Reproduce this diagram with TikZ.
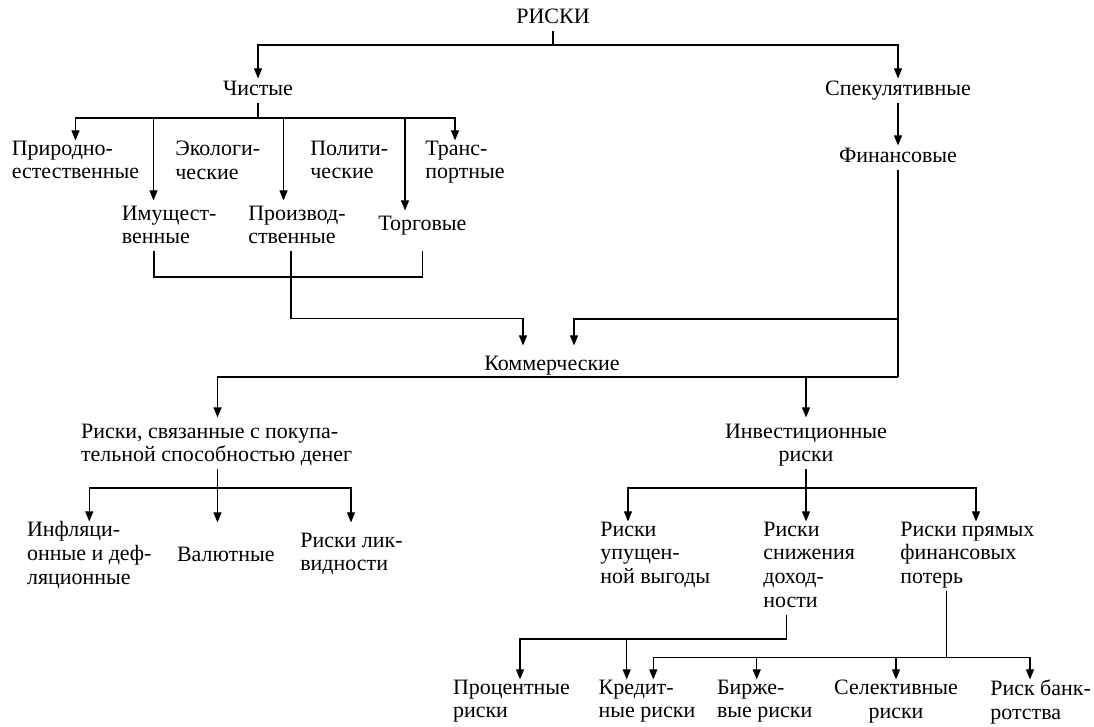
\documentclass[tikz,border=0pt]{standalone}
\usepackage{fontspec}
\setmainfont{Liberation Serif}
\usetikzlibrary{arrows.meta,calc}

\begin{document}
\begin{tikzpicture}[
    x=0.02cm, y=-0.02cm,
    lbl/.style={inner sep=0pt, align=left, font=\fontsize{12.5}{13.5}\selectfont, execute at begin node=\strut},
    ctr/.style={lbl, align=center},
    line/.style={line width=0.6pt},
    arr/.style={line, -{Triangle[length=0.2cm, width=0.16cm]}}
]
\useasboundingbox (0,0) rectangle (1094,726);

% Top levels
\node[ctr, anchor=north] (risks) at (553,6.4) {РИСКИ};
\node[ctr, anchor=north] (pure) at (258,78.4) {Чистые};
\node[ctr, anchor=north] (spec) at (898,78.4) {Спекулятивные};
\node[ctr, anchor=north] (fin) at (898,145.4) {Финансовые};

% Pure risks
\node[lbl, anchor=north west] (nat) at (11.5,140.4) {Природно-\\естественные};
\node[lbl, anchor=north west] (eco) at (175,140.4) {Экологи-\\ческие};
\node[lbl, anchor=north west] (pol) at (310,140.4) {Полити-\\ческие};
\node[lbl, anchor=north west] (trans) at (425,140.4) {Транс-\\портные};
\node[lbl, anchor=north west] (prop) at (121.5,205.4) {Имущест-\\венные};
\node[lbl, anchor=north west] (prod) at (248,205.4) {Производ-\\ственные};
\node[lbl, anchor=north west] (trade) at (378,213.4) {Торговые};

% Commercial
\node[ctr, anchor=north] (comm) at (552,353.4) {Коммерческие};
\node[lbl, anchor=north west] (money) at (80.7,423.4) {Риски, связанные с покупа-\\тельной способностью денег};
\node[ctr, anchor=north] (invest) at (806,423.4) {Инвестиционные\\риски};

\node[lbl, anchor=north west] (infl) at (26.7,521.4) {Инфляци-\\онные и деф-\\ляционные};
\node[lbl, anchor=north west] (curr) at (176.7,544.4) {Валютные};
\node[lbl, anchor=north west] (liq) at (300,532.4) {Риски лик-\\видности};

\node[lbl, anchor=north west] (lost) at (600,521.4) {Риски\\упущен-\\ной выгоды};
\node[lbl, anchor=north west] (yield) at (763,521.4) {Риски\\снижения\\доход-\\ности};
\node[lbl, anchor=north west] (loss) at (900,521.4) {Риски прямых\\финансовых\\потерь};

\node[lbl, anchor=north west] (rate) at (452.7,679.4) {Процентные\\риски};
\node[lbl, anchor=north west] (credit) at (598.3,679.4) {Кредит-\\ные риски};
\node[lbl, anchor=north west] (exch) at (716.7,679.4) {Бирже-\\вые риски};
\node[ctr, anchor=north] (sel) at (896,679.4) {Селективные\\риски};
\node[lbl, anchor=north west] (bank) at (990,679.4) {Риск банк-\\ротства};

% Junctions
\coordinate (rbus) at (553,45);
\coordinate (pbus) at (258,118);
\coordinate (cbus) at (291,277);
\coordinate (fjoin) at (898,319);
\coordinate (fbus) at (898,377);
\coordinate (mbus) at (217.5,488);
\coordinate (ibus) at (806,488);
\coordinate (ybus) at (786.7,639);
\coordinate (lbus) at (946.7,657.5);

% Connections
\draw[line] (risks) -- (rbus);
\draw[arr] (rbus) -| (pure);
\draw[arr] (rbus) -| (spec);
\draw[arr] (spec) -- (fin);

\draw[line] (pure) -- (pbus);
\draw[arr] (pbus) -| (nat);
\draw[arr] (pbus) -| ($(prop.north west)+(32,-5)$);
\draw[arr] (pbus) -| ($(prod.north west)+(35.5,-5)$);
\draw[arr] (pbus) -| ($(trade.north west)+(27,-3)$);
\draw[arr] (pbus) -| ($(trans.north west)+(30,0)$);

\draw[line] ($(prop.south west)+(32.5,0)$) |- (cbus);
\draw[line] (trade.south |- prop.south) |- (cbus);
\draw[arr] ($(prod.south west)+(43,0)$) -- ++(0,67) -| ($(comm.north)+(-29,-8)$);

\draw[line] (fin) -- (fbus);
\draw[arr] (fjoin) -| ($(comm.north)+(22,-8)$);
\draw[arr] (fbus) -| ($(money.north west)+(136.8,-6)$);
\draw[arr, shorten >=0.12cm] (fbus -| invest) -- (invest);

\draw[line] (mbus |- money.south) -- (mbus);
\draw[arr] (mbus) -| (infl);
\draw[arr] (mbus) -- ($(mbus |- curr.north)+(0,-22)$);
\draw[arr] (mbus) -| ($(liq.north west)+(51,-10)$);

\draw[line] (invest) -- (ibus);
\draw[arr] (ibus) -| ($(lost.north west)+(28,0)$);
\draw[arr] (ibus) -- (ibus |- yield.north);
\draw[arr] (ibus) -| ($(loss.north west)+(76,0)$);

\draw[line] ($(yield.south west)+(23.7,0)$) -- (ybus);
\draw[arr] (ybus) -| ($(rate.north west)+(67.3,0)$);
\draw[arr] (ybus) -| ($(credit.north west)+(28.4,0)$);

\draw[line] ($(loss.south west)+(46.7,0)$) -- (lbus);
\draw[arr] (lbus) -| ($(credit.north west)+(55,0)$);
\draw[arr] (lbus) -| ($(exch.north west)+(40,0)$);
\draw[arr] (lbus) -| (sel);
\draw[arr] (lbus) -| ($(bank.north west)+(40,0)$);

\end{tikzpicture}
\end{document}
